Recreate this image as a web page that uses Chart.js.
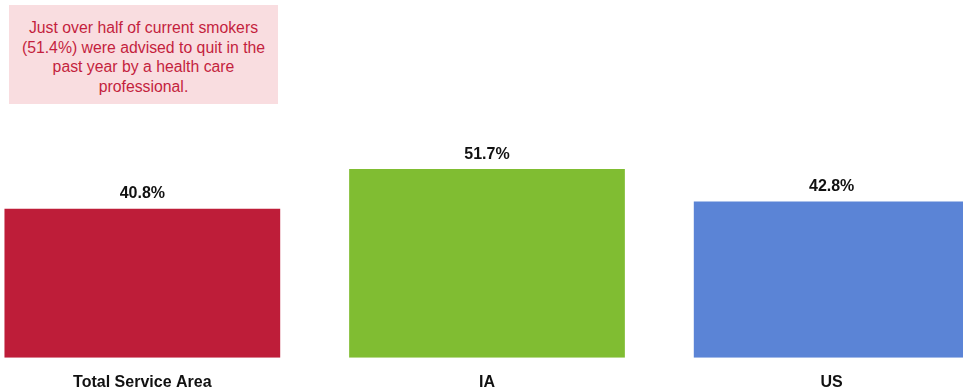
<!DOCTYPE html>
<html>
<head>
<meta charset="utf-8">
<script src="https://cdn.jsdelivr.net/npm/chart.js@4/dist/chart.umd.min.js"></script>
<style>
  html, body { margin: 0; padding: 0; background: #fff; }
  #wrap { position: relative; width: 963px; height: 390px; overflow: hidden; }
  #chartBox { position: absolute; left: -30px; top: 0; width: 1034px; height: 407px; }
  #note {
    position: absolute; left: 9px; top: 5px; width: 269px; height: 99px;
    background: #f9dde0; color: #c41f3e;
    font-family: 'Liberation Sans', Arial, sans-serif; font-size: 15.8px; line-height: 19.5px;
    text-align: center; box-sizing: border-box; padding: 13px 4px 0 4px;
  }
</style>
</head>
<body>
<div id="wrap">
  <div id="chartBox"><canvas id="c" width="1034" height="407"></canvas></div>
  <div id="note">Just over half of current smokers (51.4%) were advised to quit in the past year by a health care professional.</div>
</div>
<script>
// Advised to quit smoking, by area
const categories = ['Total Service Area', 'IA', 'US'];
const values = [40.8, 51.7, 42.8];
const barColors = ['#be1d39', '#80bd32', '#5b84d6'];

const FONT = "'Liberation Sans', Arial, sans-serif";

// draws the % value above each bar
const valueLabels = {
  id: 'valueLabels',
  afterDatasetsDraw(chart) {
    const ctx = chart.ctx;
    const meta = chart.getDatasetMeta(0);
    ctx.save();
    ctx.font = 'bold 16px ' + FONT;
    ctx.fillStyle = '#111';
    ctx.textAlign = 'center';
    ctx.textBaseline = 'alphabetic';
    meta.data.forEach((bar, i) => {
      ctx.fillText(values[i].toFixed(1) + '%', bar.x, bar.y - 10.5);
    });
    ctx.restore();
  }
};

new Chart(document.getElementById('c'), {
  type: 'bar',
  data: {
    labels: categories,
    datasets: [{
      data: values,
      backgroundColor: barColors,
      categoryPercentage: 1,
      barPercentage: 0.8
    }]
  },
  options: {
    responsive: false,
    animation: false,
    layout: { padding: 0 },
    plugins: {
      legend: { display: false },
      tooltip: { enabled: false }
    },
    scales: {
      x: {
        grid: { display: false, drawTicks: false },
        border: { display: false },
        ticks: {
          color: '#111',
          padding: 15,
          font: { family: FONT, size: 16, weight: 'bold', lineHeight: 1.2 }
        }
      },
      y: {
        display: false,
        min: 0,
        max: 98
      }
    }
  },
  plugins: [valueLabels]
});
</script>
</body>
</html>
